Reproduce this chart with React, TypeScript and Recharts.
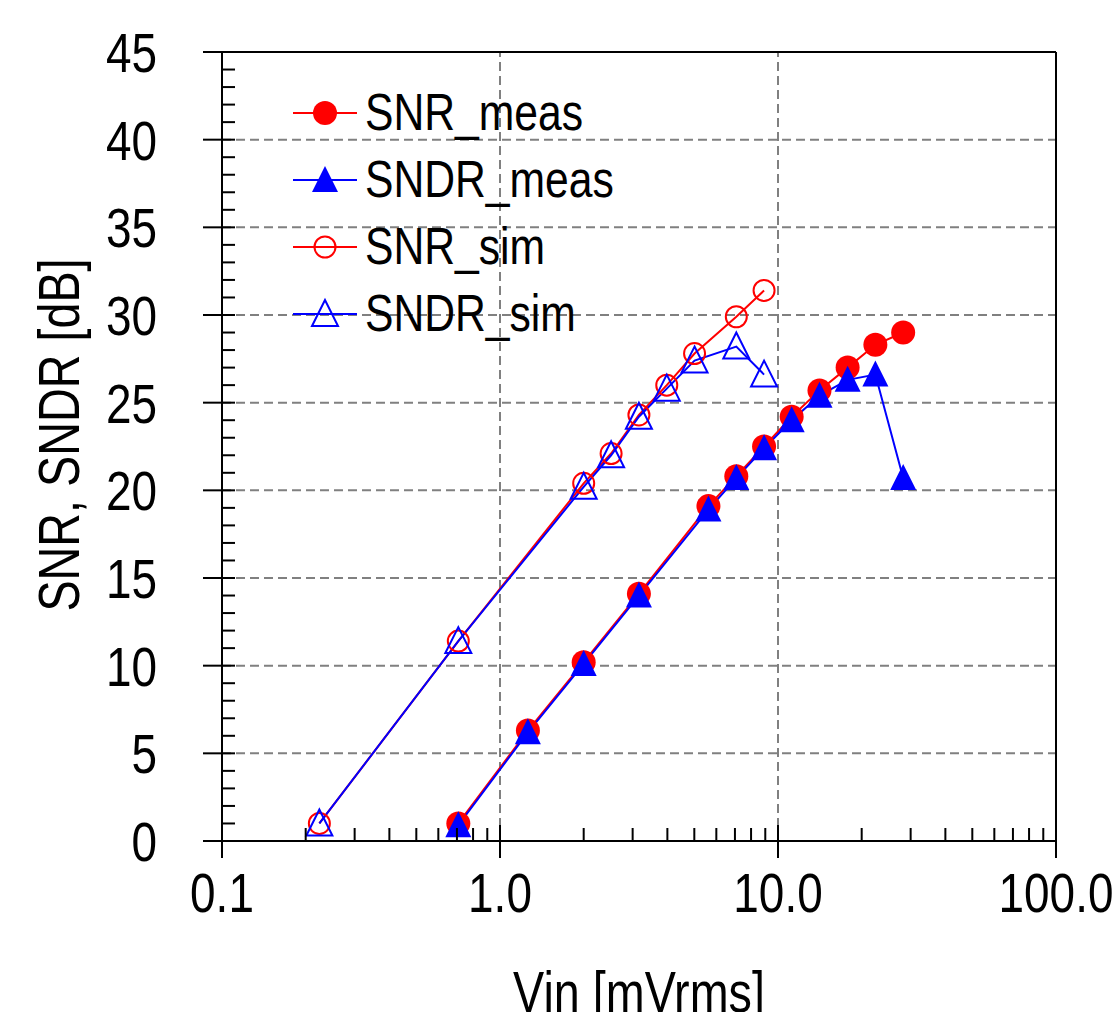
import { ComposedChart, Label, Legend, Line, ReferenceLine, XAxis, YAxis } from 'recharts';

const FONT = '"Liberation Sans", Arial, sans-serif';
const NARROW = 0.82; // reference uses an Arial Narrow style face
const RED = '#ff0000';
const BLUE = '#0000ff';

// measured points
const measVin = [0.708, 1.26, 2.0, 3.16, 5.62, 7.08, 8.91, 11.2, 14.1, 17.8, 22.4, 28.2];
const snrMeas = [1.0, 6.3, 10.2, 14.1, 19.1, 20.8, 22.5, 24.2, 25.7, 27.0, 28.3, 29.0];
const sndrMeas = [0.9, 6.2, 10.1, 14.0, 18.9, 20.7, 22.4, 24.0, 25.4, 26.3, 26.6, 20.7];

// simulated points
const simVin = [0.224, 0.708, 2.0, 2.51, 3.16, 3.98, 5.01, 7.08, 8.91];
const snrSim = [1.0, 11.4, 20.4, 22.1, 24.3, 26.0, 27.8, 29.9, 31.4];
const sndrSim = [1.0, 11.4, 20.2, 22.0, 24.2, 25.8, 27.4, 28.2, 26.6];

const xMajor = [0.1, 1, 10, 100];
const xMajorLabels = ['0.1', '1.0', '10.0', '100.0'];
const xMinorMult = [2, 3, 4, 5, 6, 7, 8, 9];
const xTicks = [
  ...xMajor,
  ...[0.1, 1, 10].flatMap((d) => xMinorMult.map((m) => +(d * m).toPrecision(3))),
];

const yTicks = Array.from({ length: 46 }, (_, i) => i);
const yGrid = [5, 10, 15, 20, 25, 30, 35, 40];
const xGrid = [1, 10];

const toPoints = (xs: number[], ys: number[]) => xs.map((x, i) => ({ x, y: ys[i] }));

const series = [
  { name: 'SNR_meas', data: toPoints(measVin, snrMeas), color: RED, marker: 'circle', filled: true },
  { name: 'SNDR_meas', data: toPoints(measVin, sndrMeas), color: BLUE, marker: 'triangle', filled: true },
  { name: 'SNR_sim', data: toPoints(simVin, snrSim), color: RED, marker: 'circle', filled: false },
  { name: 'SNDR_sim', data: toPoints(simVin, sndrSim), color: BLUE, marker: 'triangle', filled: false },
];

const NText = ({ x, y, size, anchor = 'start', rotate = 0, children }: any) => (
  <g transform={`translate(${x} ${y}) rotate(${rotate}) scale(${NARROW} 1)`}>
    <text x={0} y={0} textAnchor={anchor} fontSize={size} fontFamily={FONT} fill="#000">
      {children}
    </text>
  </g>
);

const Marker = ({ cx, cy, color, marker, filled }: any) => {
  if (cx == null || cy == null) return null;
  if (marker === 'circle') {
    return filled ? (
      <circle cx={cx} cy={cy} r={12} fill={color} stroke="none" />
    ) : (
      <circle cx={cx} cy={cy} r={10.5} fill="none" stroke={color} strokeWidth={2} />
    );
  }
  const pts = `${cx},${cy - 14} ${cx - 13},${cy + 12} ${cx + 13},${cy + 12}`;
  return filled ? (
    <polygon points={pts} fill={color} stroke="none" />
  ) : (
    <polygon points={pts} fill="none" stroke={color} strokeWidth={2} />
  );
};

const XTick = ({ x, y, payload }: any) => {
  const i = xMajor.indexOf(payload.value);
  if (i < 0) {
    return <line x1={x} x2={x} y1={y} y2={y - 13} stroke="#000" strokeWidth={2} />;
  }
  return (
    <g>
      <line x1={x} x2={x} y1={y - 16} y2={y + 17} stroke="#000" strokeWidth={2} />
      <NText x={x} y={y + 71} size={56} anchor="middle">
        {xMajorLabels[i]}
      </NText>
    </g>
  );
};

const YTick = ({ x, y, payload }: any) => {
  const v = payload.value;
  if (v % 5 !== 0) {
    return <line x1={x} x2={x + 13} y1={y} y2={y} stroke="#000" strokeWidth={2} />;
  }
  return (
    <g>
      <line x1={x - 19} x2={x + 13} y1={y} y2={y} stroke="#000" strokeWidth={2} />
      <NText x={x - 65} y={y + 20} size={56} anchor="end">
        {v}
      </NText>
    </g>
  );
};

const LegendContent = () => (
  <div style={{ fontFamily: FONT, fontSize: 52, color: '#000' }}>
    {series.map((s) => (
      <div key={s.name} style={{ display: 'flex', alignItems: 'center', height: 67 }}>
        <svg width={72} height={40} style={{ display: 'block' }}>
          <line x1={0} x2={64} y1={20} y2={20} stroke={s.color} strokeWidth={2} />
          <Marker cx={32} cy={20} color={s.color} marker={s.marker} filled={s.filled} />
        </svg>
        <span
          style={{
            display: 'inline-block',
            lineHeight: '67px',
            whiteSpace: 'nowrap',
            transform: `scaleX(${NARROW})`,
            transformOrigin: 'left center',
          }}
        >
          {s.name}
        </span>
      </div>
    ))}
  </div>
);

export default function App() {
  return (
    <div style={{ position: 'absolute', left: 0, top: 0, background: '#fff' }}>
      <ComposedChart width={1115} height={1012} margin={{ top: 52, right: 59, bottom: 0, left: 0 }}>
        <XAxis
          type="number"
          dataKey="x"
          scale="log"
          domain={[0.1, 100]}
          ticks={xTicks}
          interval={0}
          tickSize={0}
          tickMargin={0}
          tickLine={false}
          tick={<XTick />}
          height={171}
          axisLine={{ stroke: '#000', strokeWidth: 2 }}
          allowDataOverflow
        >
          <Label
            content={() => (
              <NText x={639} y={1012} size={57} anchor="middle">
                Vin [mVrms]
              </NText>
            )}
          />
        </XAxis>
        <YAxis
          type="number"
          dataKey="y"
          domain={[0, 45]}
          ticks={yTicks}
          interval={0}
          tickSize={0}
          tickMargin={0}
          tickLine={false}
          tick={<YTick />}
          width={222}
          axisLine={{ stroke: '#000', strokeWidth: 2 }}
          allowDataOverflow
        >
          <Label
            content={() => (
              <NText x={79} y={435} size={57} anchor="middle" rotate={-90}>
                SNR, SNDR [dB]
              </NText>
            )}
          />
        </YAxis>

        {yGrid.map((v) => (
          <ReferenceLine key={`h${v}`} y={v} stroke="#808080" strokeWidth={2} strokeDasharray="9 5" />
        ))}
        {xGrid.map((v) => (
          <ReferenceLine key={`v${v}`} x={v} stroke="#808080" strokeWidth={2} strokeDasharray="9 5" />
        ))}
        <ReferenceLine y={45} stroke="#000" strokeWidth={2} />
        <ReferenceLine x={100} stroke="#000" strokeWidth={2} />

        <Legend
          layout="vertical"
          align="center"
          verticalAlign="middle"
          content={<LegendContent />}
          wrapperStyle={{ left: 293, top: 79, width: 'auto', height: 'auto' }}
        />

        {series.map((s) => (
          <Line
            key={s.name}
            name={s.name}
            data={s.data}
            dataKey="y"
            type="linear"
            stroke={s.color}
            strokeWidth={2}
            isAnimationActive={false}
            activeDot={false}
            dot={(p: any) => (
              <Marker key={`${s.name}-${p.index}`} cx={p.cx} cy={p.cy} color={s.color} marker={s.marker} filled={s.filled} />
            )}
          />
        ))}
      </ComposedChart>
    </div>
  );
}
